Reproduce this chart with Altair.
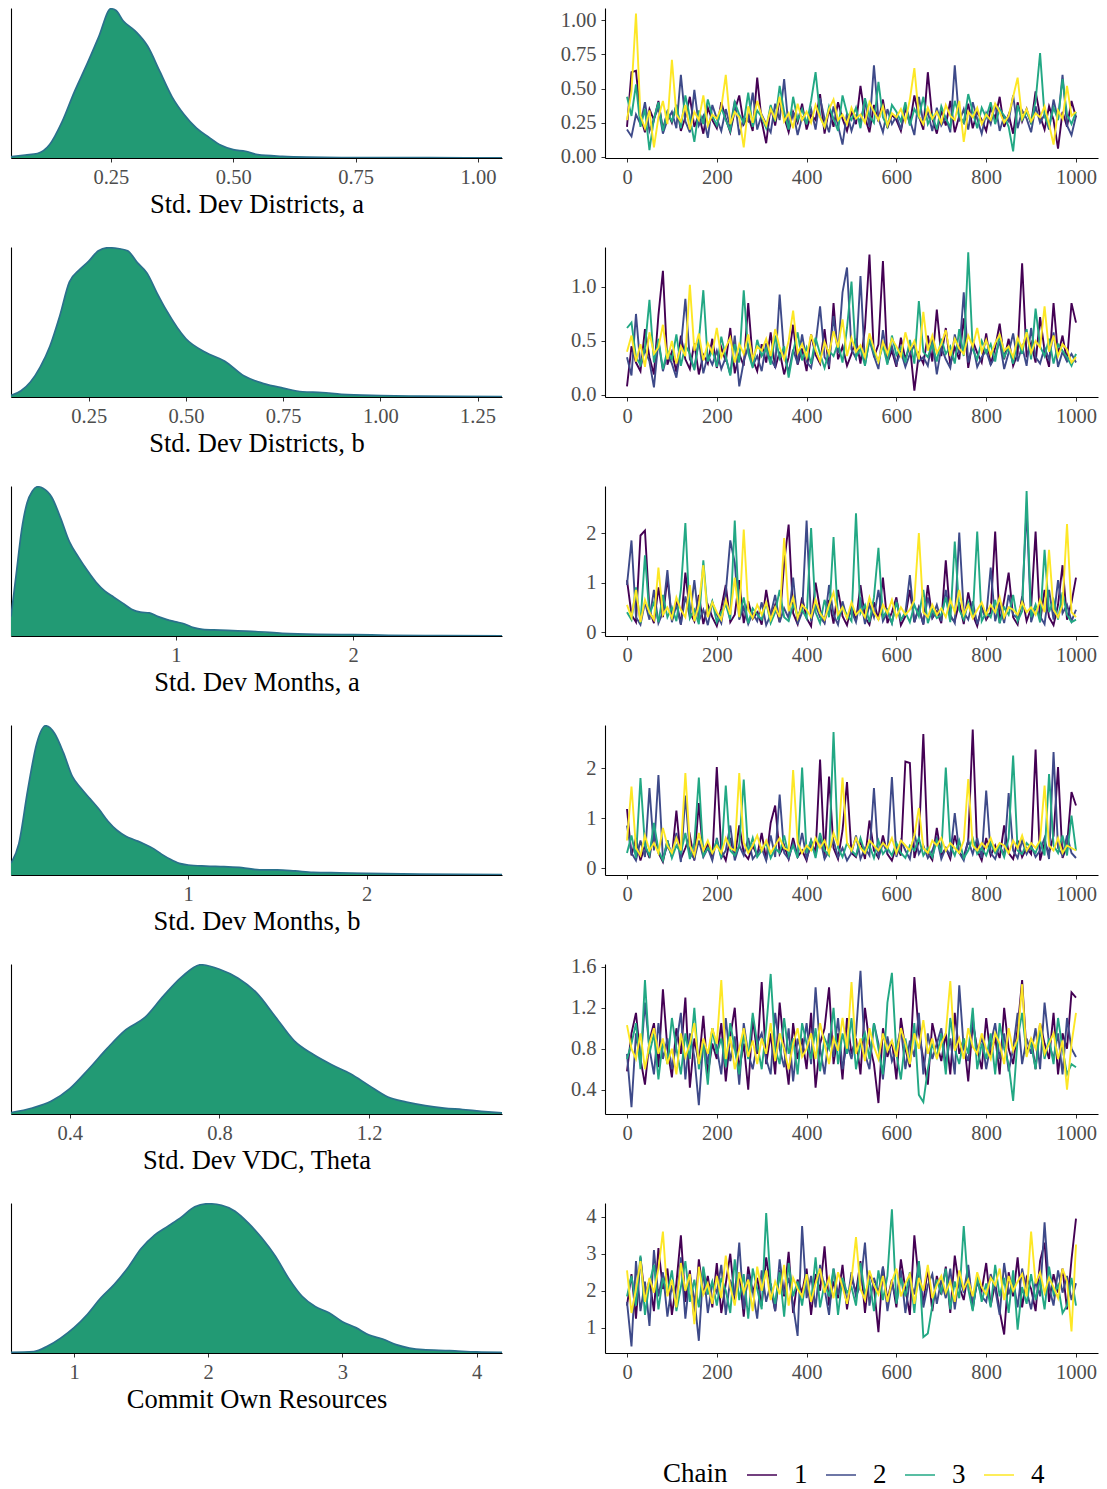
import altair as alt
import pandas as pd

FONT = "Liberation Serif"
FILL = "#229A74"
EDGE = "#2A708C"
CHAINS = ["1", "2", "3", "4"]
CHAIN_COLORS = ["#440154", "#3E4A89", "#22A884", "#FDE725"]

PARAM_LABELS = [
    "Std. Dev Districts, a",
    "Std. Dev Districts, b",
    "Std. Dev Months, a",
    "Std. Dev Months, b",
    "Std. Dev VDC, Theta",
    "Commit Own Resources",
]

# ---- posterior densities (relative height, peak = 1) ----
DENS1_X = [0.046, 0.075, 0.10, 0.125, 0.15, 0.175, 0.20, 0.225, 0.25, 0.26, 0.275, 0.30, 0.325, 0.35, 0.375,
           0.40, 0.425, 0.45, 0.475, 0.50, 0.525, 0.55, 0.60, 0.65, 0.75, 0.90, 1.049]
DENS1_Y = [0.008, 0.02, 0.03, 0.09, 0.24, 0.44, 0.62, 0.81, 1.0, 0.99, 0.92, 0.85, 0.75, 0.58, 0.41,
           0.29, 0.20, 0.14, 0.085, 0.056, 0.045, 0.022, 0.011, 0.006, 0.003, 0.002, 0.001]

DENS2_X = [0.05, 0.075, 0.10, 0.125, 0.15, 0.175, 0.20, 0.225, 0.25, 0.275, 0.30, 0.325, 0.35, 0.375, 0.40,
           0.425, 0.45, 0.50, 0.55, 0.60, 0.65, 0.70, 0.75, 0.80, 0.85, 0.90, 1.00, 1.10, 1.20, 1.313]
DENS2_Y = [0.01, 0.04, 0.10, 0.20, 0.34, 0.54, 0.77, 0.85, 0.91, 0.98, 1.0, 0.995, 0.98, 0.90, 0.83,
           0.70, 0.58, 0.39, 0.30, 0.24, 0.14, 0.09, 0.06, 0.035, 0.03, 0.018, 0.01, 0.006, 0.004, 0.002]

DENS3_X = [0.07, 0.10, 0.13, 0.16, 0.19, 0.22, 0.25, 0.30, 0.35, 0.40, 0.45, 0.50, 0.55, 0.60, 0.65, 0.70,
           0.75, 0.80, 0.85, 0.90, 0.95, 1.00, 1.05, 1.10, 1.15, 1.25, 1.35, 1.45, 1.60, 1.80, 2.00, 2.20,
           2.50, 2.84]
DENS3_Y = [0.13, 0.42, 0.71, 0.89, 0.97, 1.0, 0.99, 0.93, 0.79, 0.63, 0.53, 0.44, 0.36, 0.30, 0.26, 0.22,
           0.18, 0.16, 0.155, 0.13, 0.11, 0.095, 0.08, 0.056, 0.045, 0.04, 0.034, 0.03, 0.018, 0.011, 0.009,
           0.005, 0.002, 0.001]

DENS4_X = [0.006, 0.05, 0.10, 0.15, 0.20, 0.25, 0.30, 0.35, 0.40, 0.45, 0.50, 0.55, 0.60, 0.65, 0.70, 0.75,
           0.80, 0.85, 0.90, 0.95, 1.00, 1.10, 1.20, 1.30, 1.40, 1.50, 1.60, 1.70, 1.80, 2.00, 2.30, 2.76]
DENS4_Y = [0.08, 0.21, 0.57, 0.88, 1.0, 0.95, 0.82, 0.66, 0.58, 0.51, 0.44, 0.36, 0.30, 0.26, 0.235, 0.21,
           0.18, 0.14, 0.105, 0.078, 0.067, 0.06, 0.056, 0.05, 0.034, 0.034, 0.027, 0.018, 0.016, 0.011,
           0.006, 0.002]

DENS5_X = [0.243, 0.30, 0.35, 0.40, 0.45, 0.50, 0.55, 0.60, 0.65, 0.70, 0.75, 0.80, 0.85, 0.90, 0.95, 1.00,
           1.05, 1.10, 1.15, 1.20, 1.25, 1.30, 1.35, 1.40, 1.45, 1.50, 1.555]
DENS5_Y = [0.01, 0.04, 0.085, 0.17, 0.30, 0.44, 0.565, 0.645, 0.79, 0.92, 1.0, 0.97, 0.91, 0.81, 0.65, 0.49,
           0.40, 0.33, 0.27, 0.19, 0.114, 0.08, 0.056, 0.04, 0.03, 0.018, 0.007]

DENS6_X = [0.53, 0.7, 0.8, 0.9, 1.0, 1.1, 1.2, 1.3, 1.4, 1.5, 1.6, 1.7, 1.8, 1.9, 2.0, 2.1, 2.2, 2.3, 2.4,
           2.5, 2.6, 2.7, 2.8, 2.9, 3.0, 3.1, 3.2, 3.3, 3.4, 3.5, 3.6, 3.8, 4.0, 4.19]
DENS6_Y = [0.005, 0.01, 0.045, 0.10, 0.17, 0.26, 0.37, 0.46, 0.57, 0.70, 0.79, 0.85, 0.91, 0.98, 1.0, 0.99,
           0.95, 0.87, 0.77, 0.65, 0.50, 0.38, 0.31, 0.27, 0.21, 0.17, 0.12, 0.094, 0.056, 0.033, 0.022,
           0.016, 0.007, 0.004]

DENS_DOMAINS = [[0.046, 1.049], [0.05, 1.313], [0.07, 2.84], [0.006, 2.76], [0.243, 1.555], [0.53, 4.19]]
DENS_TICKS = [[0.25, 0.5, 0.75, 1.0], [0.25, 0.5, 0.75, 1.0, 1.25], [1, 2], [1, 2], [0.4, 0.8, 1.2], [1, 2, 3, 4]]
DENS_FMT = [".2f", ".2f", "d", "d", ".1f", "d"]

# ---- MCMC traces, one value every 10 iterations (0..1000) ----
T1_C1 = [.22, .62, .63, .30, .18, .35, .27, .41, .20, .33,
         .25, .38, .19, .29, .44, .22, .31, .17, .36, .27,
         .21, .40, .28, .18, .34, .45, .24, .30, .19, .58,
         .26, .10, .37, .23, .42, .29, .18, .33, .25, .39,
         .20, .31, .27, .46, .17, .35, .22, .40, .28, .19,
         .33, .24, .52, .29, .18, .38, .26, .42, .21, .31,
         .27, .19, .36, .24, .45, .30, .20, .62, .28, .17,
         .34, .23, .41, .18, .30, .25, .39, .21, .33, .27,
         .19, .36, .28, .44, .22, .31, .17, .40, .26, .35,
         .24, .48, .30, .20, .37, .27, .06, .33, .22, .41, .29]
T1_C2 = [.20, .15, .31, .24, .40, .19, .28, .36, .17, .27,
         .33, .21, .60, .26, .18, .49, .23, .30, .14, .38,
         .28, .19, .35, .22, .41, .16, .29, .26, .47, .20,
         .31, .24, .18, .39, .27, .57, .21, .33, .16, .29,
         .25, .35, .20, .43, .28, .18, .37, .23, .09, .32,
         .19, .30, .26, .41, .22, .67, .28, .18, .35, .24,
         .30, .20, .38, .27, .16, .44, .25, .33, .19, .36,
         .23, .29, .18, .67, .26, .35, .20, .40, .28, .17,
         .32, .24, .39, .19, .30, .26, .45, .21, .34, .28,
         .18, .37, .25, .31, .20, .42, .27, .60, .23, .16, .30]
T1_C3 = [.44, .30, .53, .22, .35, .05, .28, .40, .19, .33,
         .26, .38, .21, .45, .29, .11, .34, .24, .42, .30,
         .23, .36, .27, .19, .40, .31, .25, .47, .22, .34,
         .29, .21, .38, .26, .52, .33, .20, .44, .27, .35,
         .24, .41, .62, .30, .22, .37, .28, .19, .45, .32,
         .27, .36, .21, .43, .30, .25, .55, .29, .22, .38,
         .33, .26, .40, .23, .35, .29, .44, .24, .31, .20,
         .37, .28, .22, .41, .30, .25, .46, .33, .21, .36,
         .29, .40, .24, .35, .30, .22, .04, .38, .27, .33,
         .25, .41, .76, .30, .22, .36, .27, .57, .31, .24, .33]
T1_C4 = [.27, .48, 1.05, .30, .21, .34, .07, .29, .41, .24,
         .71, .31, .26, .38, .20, .33, .27, .45, .23, .31,
         .28, .36, .60, .24, .33, .29, .07, .37, .25, .41,
         .30, .23, .35, .28, .44, .26, .32, .21, .39, .27,
         .33, .25, .38, .29, .22, .35, .42, .27, .31, .24,
         .36, .28, .31, .25, .40, .33, .27, .37, .23, .32,
         .29, .35, .26, .42, .65, .30, .24, .36, .28, .33,
         .25, .38, .30, .27, .41, .11, .33, .29, .36, .24,
         .31, .27, .39, .33, .25, .30, .44, .58, .28, .35,
         .26, .32, .29, .37, .24, .09, .34, .28, .52, .30, .33]

T2_C1 = [.08, .45, .30, .22, .61, .35, .19, .74, 1.15, .28,
         .40, .21, .55, .33, .24, .48, .19, .37, .29, .52,
         .25, .44, .31, .62, .20, .38, .27, .85, .33, .22,
         .47, .30, .58, .25, .40, .19, .35, .65, .28, .43,
         .22, .56, .37, .29, .61, .24, .85, .33, .45, .27,
         .38, .52, .29, .62, 1.30, .35, .47, 1.24, .30, .41,
         .26, .53, .33, .46, .04, .38, .29, .55, .31, .79,
         .36, .62, .28, .44, .33, .71, .25, .50, .39, .30,
         .57, .28, .44, .66, .33, .52, .27, .38, 1.22, .35,
         .48, .30, .72, .41, .26, .85, .37, .55, .31, .85, .67]
T2_C2 = [.35, .18, .75, .26, .42, .31, .07, .50, .22, .38,
         .29, .16, .44, .89, .33, .25, .51, .20, .37, .28,
         .41, .24, .35, .19, .55, .08, .31, .45, .27, .36,
         .22, .48, .33, .26, .93, .37, .21, .42, .29, .56,
         .31, .25, .47, .82, .35, .28, .73, .39, .95, 1.18,
         .42, .34, 1.10, .28, .51, .36, .24, .60, .33, .45,
         .29, .40, .26, .38, .46, .31, .35, .27, .52, .19,
         .44, .33, .25, .56, .38, .95, .30, .47, .26, .35,
         .41, .28, .36, .50, .24, .39, .57, .31, .45, .27,
         .62, .35, .29, .44, .33, .58, .26, .40, .31, .38, .30]
T2_C3 = [.62, .67, .35, .28, .44, .88, .30, .52, .24, .41,
         .33, .56, .27, .46, .38, .23, .50, .97, .31, .42,
         .26, .54, .35, .18, .47, .30, .97, .39, .25, .51,
         .36, .43, .28, .55, .34, .45, .16, .40, .58, .32,
         .44, .29, .53, .38, .25, .41, .36, .48, .30, .62,
         1.05, .35, .43, .27, .52, .39, .31, .46, .28, .55,
         .37, .44, .30, .51, .29, .87, .40, .35, .47, .31,
         .52, .38, .45, .29, .61, .36, 1.32, .42, .33, .50,
         .39, .47, .31, .56, .35, .44, .29, .52, .38, .61,
         .33, .80, .45, .36, .52, .29, .47, .41, .35, .27, .38]
T2_C4 = [.40, .55, .31, .47, .26, .58, .38, .44, .65, .33,
         .50, .29, .45, .36, 1.02, .41, .57, .32, .48, .39,
         .62, .35, .44, .53, .30, .47, .38, .56, .33, .45,
         .41, .52, .36, .61, .44, .33, .50, .78, .39, .47,
         .35, .56, .42, .31, .49, .38, .59, .44, .70, .36,
         .53, .40, .46, .35, .57, .43, .31, .49, .38, .52,
         .45, .36, .58, .42, .50, .33, .77, .41, .55, .39,
         .47, .60, .36, .52, .43, .38, .55, .45, .62, .40,
         .51, .37, .48, .56, .41, .45, .35, .53, .43, .58,
         .39, .50, .44, .82, .40, .55, .36, .47, .42, .30, .35]

T3_C1 = [1.05, .35, .20, 1.95, 2.05, .45, .18, .90, .30, 1.10,
         .25, .62, .15, 1.20, .40, .22, .75, .16, .55, .30,
         .12, .48, .95, .20, .35, 1.05, .18, .62, .27, .40,
         .15, .85, .30, .55, .20, 1.40, 2.17, .38, .16, .70,
         .28, .12, 1.00, .45, .20, .65, .17, .85, .32, .14,
         .55, .22, .95, .30, .15, .60, .25, 1.10, .18, .40,
         .70, .14, .32, .85, .20, .50, .15, .95, .28, .42,
         .18, 1.45, .30, .22, .60, .16, .80, .35, .12, .52,
         .25, .40, 2.03, .18, .65, 1.20, .30, .15, .72, .22,
         .48, 2.03, .20, .85, .30, .14, .55, 1.35, .25, .60, 1.10]
T3_C2 = [.95, 1.85, .30, .15, .60, .25, .85, .18, .40, 1.25,
         .20, .55, .15, .72, .30, 1.05, .22, .45, .14, .60,
         .35, .18, .80, 1.85, 1.40, .25, .50, .16, .38, .22,
         .60, .14, .35, .75, .20, .48, .28, 1.10, .16, .40,
         2.25, .22, .55, .30, .18, .95, .35, .15, .62, .28,
         .42, .20, .70, .16, .55, .30, .85, .22, .40, .18,
         .65, .24, .38, 1.15, .20, .48, .16, .70, .30, .55,
         .22, .85, .35, .18, 2.01, .40, .25, .62, .16, .45,
         .30, 1.30, .22, .55, .18, .75, .35, .28, .60, 2.49,
         .20, .50, .32, .16, .85, .25, 1.05, .38, .55, .22, .45]
T3_C3 = [.40, .25, .90, .18, 1.55, .35, .60, .20, .75, .30,
         .50, .22, .85, 2.20, .28, .45, .16, 1.45, .35, .62,
         .20, .40, .55, .25, 2.25, .30, .70, .18, .48, .35,
         .25, .60, .18, .40, .85, .30, .22, .55, .35, .45,
         .28, 2.10, .40, .18, .65, .30, 1.92, .25, .50, .35,
         .22, 2.40, .38, .55, .20, .70, 1.70, .30, .45, .18,
         .60, .25, .40, .20, .55, .32, .85, .18, .45, .28,
         .35, .70, .20, 1.83, .45, .25, .60, .30, 2.03, .22,
         .40, .30, .65, .18, .50, .35, .75, .22, .42, 2.85,
         .30, .55, .20, 1.66, .40, .65, .25, .80, .35, .20, .25]
T3_C4 = [.55, .30, .85, .20, .65, .40, .25, 1.30, .35, .50,
         .28, .70, .45, .30, .95, .22, .55, 1.35, .30, .60,
         .40, .25, .65, .35, 1.10, .30, 2.07, .45, .28, .55,
         .35, .60, .25, .50, .30, 1.90, .42, .70, .28, .55,
         .45, .30, .65, .38, .25, .55, .80, .35, .50, .28,
         .60, .35, .45, .30, .70, .40, .25, .55, .38, .65,
         .30, .50, .35, .45, .65, 2.00, .40, .30, .55, .35,
         .48, .30, .65, .40, .85, .35, .55, .28, .45, .60,
         .35, .55, .40, .70, .30, .50, .45, .35, .60, .40,
         .50, .35, .65, .40, 1.66, .45, .30, .55, 2.18, .40, .30]

T4_C1 = [1.18, .25, .60, .15, .45, .20, .80, .30, .12, .55,
         .22, 1.15, .18, .40, .65, .15, 1.30, .25, .50, .18,
         2.02, .35, .15, .60, .22, .85, .30, .18, .45, .25,
         .70, .16, .90, 1.25, .28, .45, .18, .60, .22, .35,
         .15, .55, .30, 2.17, .20, 1.83, .40, .18, .75, 1.72,
         .30, .22, .55, .18, .95, .35, .20, .65, .28, .15,
         .45, .25, 2.13, 2.10, .20, .55, 2.68, .30, .16, .80,
         .25, .40, .18, .65, .30, .22, .55, 2.77, .35, .15,
         .60, .25, .45, .20, .85, .30, .18, .55, .22, .40,
         .28, 2.37, .15, .50, .30, .65, 2.02, .20, .45, 1.52, 1.25]
T4_C2 = [.85, .30, .15, .55, .22, 1.60, .35, 1.86, .18, .45,
         .25, .70, .12, 1.45, .30, .18, .55, .22, .40, .15,
         .60, .20, .35, .85, .15, .45, .25, .60, .18, .30,
         .40, .15, .65, .22, 1.47, .30, .18, .50, .25, .70,
         .20, .45, .28, .60, .18, .35, .55, .22, .40, .15,
         .30, .65, .18, .40, .25, 1.60, .20, .50, .30, 1.82,
         .22, .55, .35, .18, .70, .28, .45, .20, .35, .60,
         .18, .40, .25, 1.10, .30, .15, .55, .28, .60, .20,
         1.55, .30, .18, .45, .25, 1.50, .35, .20, .55, .28,
         .45, .22, .35, .60, .18, 2.32, .40, .25, .65, .30, .20]
T4_C3 = [.30, .65, .20, 1.80, .45, .25, .90, .35, .15, .55,
         .20, .45, .30, .70, .18, .50, 1.81, .25, .40, .30,
         .55, .20, 1.65, .35, .25, .45, 1.77, .30, .60, .22,
         .35, .50, .20, .40, .30, .65, .25, .45, .20, 2.01,
         .30, .55, .20, .70, .35, .25, 2.72, .40, .22, .50,
         .35, .25, .60, .30, .45, .20, .55, .28, .40, .25,
         .50, .30, .20, .45, .35, .60, .25, .40, .22, .55,
         .30, 2.01, .45, .25, .55, .20, .35, .60, .28, .40,
         .25, .50, .30, .45, .22, .60, 2.25, .35, .28, .50,
         .40, .30, .55, .25, 1.88, .45, .30, .65, .25, 1.05, .35]
T4_C4 = [.55, 1.63, .40, .25, .65, .35, .50, .30, .80, .45,
         .30, .60, .35, 1.90, .45, .25, .70, .35, .55, .30,
         .45, .30, .60, .40, .35, 1.90, .50, .30, .45, .65,
         .35, .55, .30, .45, .60, .40, .35, 1.96, .50, .30,
         .45, .35, .60, .40, .55, .30, .70, .45, 1.81, .50,
         .35, .60, .40, .30, .55, .45, .35, .50, .40, .60,
         .30, .55, .45, .35, .65, 1.20, .40, .30, .55, .45,
         .60, .35, .50, .40, .30, .55, 1.78, .45, .35, .50,
         .40, .60, .35, .50, .45, .30, .55, .40, .65, .35,
         .50, .40, .55, 1.65, .45, .35, .60, .30, .45, .40, .35]

T5_C1 = [.58, .95, 1.15, .70, .45, .88, 1.05, .62, 1.38, .80,
         .52, 1.00, .75, 1.30, .42, .90, .65, 1.12, .55, .85,
         .70, 1.05, .48, .92, 1.20, .60, .85, .40, 1.10, .75,
         1.45, .65, .95, .55, 1.25, .80, .45, 1.05, .70, .90,
         .60, 1.15, .42, .85, 1.00, 1.40, .65, .95, .50, 1.10,
         .75, .90, .55, 1.20, .85, .65, .27, 1.00, .72, .88,
         .50, 1.10, .80, .62, 1.50, .95, .70, .45, 1.05, .85,
         .68, .95, .55, 1.15, .75, .90, .48, 1.05, .80, .60,
         1.10, .72, .92, .55, 1.20, .80, .65, 1.00, 1.47, .75,
         .90, .60, 1.05, .85, .70, 1.15, .55, .95, .80, 1.35, 1.30]
T5_C2 = [.75, .23, .95, .65, 1.25, .80, .55, 1.05, .70, .90,
         .60, .85, 1.15, .50, .95, .72, .25, .88, .65, 1.00,
         .80, .55, 1.10, .68, .92, .45, 1.05, .75, .60, .85,
         .95, .70, .55, 1.15, .80, .62, 1.00, .48, .90, .75,
         1.05, .65, 1.40, .80, .55, .95, .72, 1.10, .60, .85,
         .70, .95, 1.56, .75, .60, 1.05, .85, .50, .92, .68,
         .80, 1.00, .60, .88, .72, 1.15, .55, .95, .70, .85,
         1.00, .65, .90, .55, 1.42, .80, .68, 1.10, .75, .92,
         .60, .85, 1.05, .70, .95, .58, .80, 1.15, .65, .90,
         .75, 1.00, .60, 1.25, .85, .70, .95, .55, 1.10, .80, .72]
T5_C3 = [.70, .85, 1.05, .60, 1.47, .75, .95, .50, .88, .65,
         1.10, .80, .55, .95, .70, 1.20, .60, .85, .45, 1.00,
         .75, .90, .62, 1.05, .80, .55, .95, .70, 1.15, .85,
         .60, 1.00, 1.53, .80, .65, 1.10, .75, .90, .55, 1.05,
         .85, .70, 1.00, .58, .90, .80, 1.20, .65, .95, .75,
         1.10, .60, .85, .95, .70, 1.05, .80, .55, 1.25, 1.54,
         .75, .50, .90, .65, 1.05, .35, .28, .60, .85, .72,
         .95, .55, 1.10, .80, .65, .90, .75, 1.20, .60, .85,
         .70, .95, .55, 1.05, .80, .65, .29, .90, 1.15, .75,
         .85, .60, 1.00, .70, .90, .65, 1.10, .80, .55, .65, .62]
T5_C4 = [1.03, .80, .70, .95, .60, .85, 1.00, .75, .90, .65,
         .80, .55, .95, .72, .85, 1.05, .65, .90, .75, 1.00,
         .85, 1.47, .70, .92, .60, .80, 1.00, .72, .88, .65,
         .90, .75, 1.05, .68, .95, .80, .60, .85, 1.00, .72,
         .80, .95, .70, 1.05, .85, .65, .90, .78, 1.10, .80,
         1.45, .75, .90, .68, 1.00, .82, .70, .95, .78, .88,
         .72, 1.00, .85, .65, .95, .80, 1.08, .75, .90, .70,
         .85, .95, 1.46, .78, .90, .70, 1.00, .82, .75, .95,
         .80, .70, .95, .85, .65, 1.00, .78, .90, 1.43, .72,
         .90, .80, 1.05, .75, .85, .95, .70, .88, .40, .85, 1.15]

T6_C1 = [1.60, 2.45, 1.25, 2.90, 1.80, 2.30, 1.45, 3.15, 2.05, 2.60,
         1.35, 2.20, 3.50, 1.70, 2.55, 1.20, 2.85, 1.90, 2.40, 1.55,
         2.75, 1.40, 2.20, 3.00, 1.75, 2.50, 1.30, 2.65, 1.95, 2.35,
         1.60, 2.90, 2.10, 1.45, 2.55, 1.85, 3.05, 1.40, 2.30, 1.95,
         2.60, 1.35, 2.45, 2.00, 3.20, 1.60, 2.25, 1.80, 2.70, 1.50,
         2.35, 1.95, 2.80, 1.40, 2.50, 2.10, 0.88, 2.65, 1.75, 2.30,
         1.55, 2.85, 2.05, 1.35, 3.50, 2.25, 1.70, 2.60, 1.45, 2.40,
         1.90, 2.65, 1.40, 2.95, 2.10, 1.75, 2.55, 1.50, 2.30, 2.00,
         2.75, 1.60, 2.20, 1.45, 0.82, 2.50, 1.85, 2.90, 1.55, 2.35,
         2.05, 1.45, 2.80, 3.30, 1.70, 2.45, 1.95, 2.60, 1.50, 2.85, 3.95]
T6_C2 = [1.70, 0.50, 2.80, 1.45, 2.25, 1.05, 3.10, 1.85, 2.50, 1.30,
         2.15, 1.65, 2.90, 1.25, 2.40, 1.80, 0.65, 2.60, 1.40, 2.20,
         1.95, 2.70, 1.35, 2.30, 1.85, 3.30, 1.50, 2.45, 2.00, 1.25,
         2.55, 1.70, 2.20, 1.45, 2.85, 1.90, 2.35, 1.60, 0.78, 3.75,
         1.80, 2.40, 1.55, 2.70, 2.05, 1.35, 2.60, 1.90, 2.25, 1.65,
         2.50, 1.85, 2.15, 3.30, 1.60, 2.35, 1.95, 2.65, 1.45, 2.20,
         1.75, 2.55, 1.40, 2.30, 1.90, 2.80, 1.55, 2.15, 2.45, 1.65,
         2.30, 1.80, 2.60, 1.50, 2.40, 1.95, 2.70, 1.60, 2.25, 1.85,
         1.70, 2.45, 2.05, 1.35, 2.75, 1.90, 2.30, 1.55, 2.60, 2.00,
         1.50, 2.25, 1.85, 3.85, 2.10, 1.60, 2.55, 1.95, 2.40, 1.75, 2.20]
T6_C3 = [1.85, 2.40, 1.60, 2.95, 1.35, 2.20, 2.70, 1.50, 2.35, 1.95,
         2.55, 1.45, 2.10, 2.80, 1.70, 2.30, 1.55, 2.65, 1.90, 2.25,
         1.60, 2.35, 2.00, 1.40, 2.85, 1.75, 2.45, 1.25, 2.60, 2.05,
         1.50, 4.10, 2.15, 1.65, 2.50, 1.30, 2.75, 1.85, 2.25, 1.60,
         2.45, 1.70, 2.90, 1.55, 2.20, 1.85, 2.60, 1.35, 2.35, 1.95,
         2.10, 1.60, 2.75, 1.90, 2.30, 1.45, 2.55, 1.75, 2.40, 4.20,
         1.65, 2.35, 1.85, 2.50, 1.40, 2.80, 0.75, 0.85, 1.60, 2.30,
         1.95, 2.60, 1.50, 2.25, 1.80, 3.75, 2.05, 1.45, 2.40, 1.70,
         2.20, 1.55, 2.70, 1.85, 2.35, 1.40, 2.55, 0.95, 2.10, 1.65,
         2.45, 1.75, 2.30, 1.50, 2.65, 1.90, 2.15, 1.40, 1.60, 2.35, 1.60]
T6_C4 = [2.55, 1.40, 2.05, 2.80, 1.70, 2.35, 1.95, 2.60, 3.60, 1.85,
         2.30, 1.55, 2.75, 2.00, 2.45, 1.10, 2.65, 1.90, 2.20, 1.65,
         2.40, 1.80, 2.95, 2.10, 1.60, 2.50, 1.95, 2.30, 1.45, 2.65,
         2.00, 2.55, 1.75, 2.25, 1.90, 2.70, 1.60, 2.35, 2.05, 1.85,
         2.45, 1.70, 2.20, 2.60, 1.95, 2.35, 1.80, 2.50, 2.10, 1.65,
         2.30, 3.45, 2.05, 1.75, 2.55, 2.15, 1.90, 2.40, 1.70, 2.25,
         2.60, 1.85, 2.20, 2.45, 1.65, 2.35, 2.00, 2.70, 1.80, 2.15,
         2.40, 1.95, 2.25, 1.70, 2.55, 2.05, 2.30, 1.85, 2.50, 2.10,
         1.90, 2.35, 2.15, 2.60, 1.75, 2.40, 2.00, 2.25, 2.45, 1.85,
         3.60, 2.20, 2.50, 1.95, 2.35, 2.10, 1.80, 2.60, 2.25, 0.90, 3.25]

TRACE_DOMAINS = [[-0.008, 1.09], [-0.019, 1.37], [-0.08, 2.95], [-0.14, 2.86], [0.163, 1.627], [0.32, 4.37]]
TRACE_TICKS = [[0, 0.25, 0.5, 0.75, 1.0], [0, 0.5, 1.0], [0, 1, 2], [0, 1, 2], [0.4, 0.8, 1.2, 1.6], [1, 2, 3, 4]]
TRACE_FMT = [".2f", ".1f", "d", "d", ".1f", "d"]
ITER_TICKS = [0, 200, 400, 600, 800, 1000]

DENS = [(DENS1_X, DENS1_Y), (DENS2_X, DENS2_Y), (DENS3_X, DENS3_Y),
        (DENS4_X, DENS4_Y), (DENS5_X, DENS5_Y), (DENS6_X, DENS6_Y)]
TRACES = [[T1_C1, T1_C2, T1_C3, T1_C4], [T2_C1, T2_C2, T2_C3, T2_C4], [T3_C1, T3_C2, T3_C3, T3_C4],
          [T4_C1, T4_C2, T4_C3, T4_C4], [T5_C1, T5_C2, T5_C3, T5_C4], [T6_C1, T6_C2, T6_C3, T6_C4]]

LEFT_W, RIGHT_W, PANEL_H = 491, 493, 150


def density_chart(k):
    xs, ys = DENS[k]
    df = pd.DataFrame({"x": xs, "y": ys})
    return alt.Chart(df).mark_area(
        color=FILL, opacity=1, interpolate="monotone", clip=True,
        line=alt.OverlayMarkDef(color=EDGE, strokeWidth=1.7),
    ).encode(
        x=alt.X("x:Q", scale=alt.Scale(domain=DENS_DOMAINS[k], nice=False, zero=False),
                axis=alt.Axis(values=DENS_TICKS[k], format=DENS_FMT[k], title=PARAM_LABELS[k])),
        y=alt.Y("y:Q", scale=alt.Scale(domain=[0, 1.005], nice=False),
                axis=alt.Axis(labels=False, ticks=False, title=None, minExtent=0, maxExtent=0)),
    ).properties(width=LEFT_W, height=PANEL_H)


def trace_chart(k):
    rows = []
    for name, vals in zip(CHAINS, TRACES[k]):
        step = 1000 / (len(vals) - 1)
        for i, v in enumerate(vals):
            rows.append({"iteration": i * step, "value": v, "chain": name})
    df = pd.DataFrame(rows)
    return alt.Chart(df).mark_line(strokeWidth=1.9, clip=True).encode(
        x=alt.X("iteration:Q", scale=alt.Scale(domain=[-49, 1049], nice=False, zero=False),
                axis=alt.Axis(values=ITER_TICKS, format="d", title=None)),
        y=alt.Y("value:Q", scale=alt.Scale(domain=TRACE_DOMAINS[k], nice=False, zero=False),
                axis=alt.Axis(values=TRACE_TICKS[k], format=TRACE_FMT[k], title=None,
                              minExtent=55, maxExtent=55)),
        color=alt.Color("chain:N", scale=alt.Scale(domain=CHAINS, range=CHAIN_COLORS),
                        legend=alt.Legend(title="Chain", orient="none", legendX=652, legendY=1451,
                                          direction="horizontal", titleOrient="left",
                                          symbolType="stroke", symbolSize=900, symbolStrokeWidth=1.5,
                                          labelOffset=16, columnPadding=15, titlePadding=18)),
        detail="chain:N",
    ).properties(width=RIGHT_W, height=PANEL_H)


panels = []
for k in range(6):
    panels.append(density_chart(k))
    panels.append(trace_chart(k))

chart = alt.concat(
    *panels, columns=2, bounds="flush",
    spacing=alt.RowColnumber(row=89, column=103),
).properties(
    padding={"left": 11, "top": 8, "right": 5, "bottom": 5},
    background="white",
).configure_view(
    stroke=None,
).configure_axis(
    grid=False, domainColor="black", domainWidth=1.1, tickColor="#333333", tickSize=4,
    labelFont=FONT, labelFontSize=20.5, labelColor="#4D4D4D", labelPadding=5,
    titleFont=FONT, titleFontSize=26.5, titleFontWeight="normal", titleColor="black", titlePadding=4,
).configure_legend(
    labelFont=FONT, labelFontSize=27, labelColor="black",
    titleFont=FONT, titleFontSize=27, titleFontWeight="normal", titleColor="black",
)

chart.save("out.html", embed_options={"renderer": "svg", "actions": False})
